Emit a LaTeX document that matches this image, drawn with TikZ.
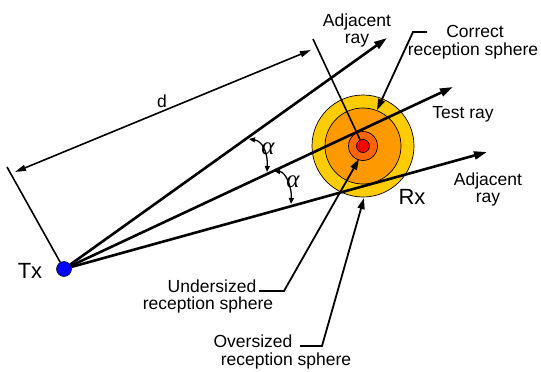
\documentclass[tikz,border=0pt]{standalone}
\usepackage{fontspec}
\setmainfont{Liberation Sans}
\newfontfamily\grkfont{Liberation Serif}
\usetikzlibrary{arrows.meta}
\begin{document}
\begin{tikzpicture}[x=1pt,y=-1pt,
  ray/.style={line width=2.6pt,-{Triangle[length=13pt,width=8pt]}},
  ptr/.style={line width=1.8pt,-{Triangle[length=11pt,width=7pt]}},
  dim/.style={line width=1.6pt,{Triangle[length=11pt,width=6pt]}-{Triangle[length=11pt,width=6pt]}},
  extl/.style={line width=1.6pt},
  curl/.style={line width=1.3pt,{Triangle[length=6pt,width=5pt]}-{Triangle[length=6pt,width=5pt]}},
  lbl/.style={font=\fontsize{17.5}{18}\selectfont, inner sep=0pt, align=center},
  big/.style={font=\fontsize{22}{24}\selectfont, inner sep=0pt},
  greek/.style={inner sep=0pt, font=\fontsize{25}{25}\grkfont\itshape\selectfont},
  sph/.style={circle, draw=black, line width=0.7pt, inner sep=0pt}]
\useasboundingbox (0,0) rectangle (541,372);
% reception spheres
\node[sph, fill={rgb,255:red,255;green,204;blue,0}, minimum size=102pt] (outer) at (363,146) {};
\node[sph, fill={rgb,255:red,255;green,153;blue,0}, minimum size=76pt] (mid) at (363,146) {};
\node[sph, fill={rgb,255:red,255;green,102;blue,0}, minimum size=29pt] (small) at (363,146) {};
\node[sph, fill={rgb,255:red,255;green,0;blue,0}, minimum size=13pt] (rx) at (363,146) {};
% transmitter
\node[circle, draw=black, line width=0.5pt, fill=blue, minimum size=15pt, inner sep=0pt] (tx) at (64,269) {};
% ray end points
\coordinate (a1) at (387,38);
\coordinate (tr) at (453,87);
\coordinate (a2) at (487,152);
% extension lines and dimension
\coordinate (e1) at (7,167);
\coordinate (e2) at (313,39);
\coordinate (d1) at (15,172);
\coordinate (d2) at (311,50);
\draw[extl] (e1) -- (tx);
\draw[extl] (e2) -- (rx);
\draw[dim] (d1) -- (d2);
% rays
\draw[ray] (tx) -- (a1);
\draw[ray] (tx) -- (tr);
\draw[ray] (tx) -- (a2);
% angle curls
\coordinate (c1a) at (249,139);
\coordinate (c1b) at (267,172);
\coordinate (c2a) at (274,171);
\coordinate (c2b) at (291,204);
\draw[curl] (c1a) .. controls (262,141) and (268,152) .. (c1b);
\draw[curl] (c2a) .. controls (286,172) and (292,188) .. (c2b);
\node[greek] (al1) at (268,149) {α};
\node[greek] (al2) at (293,182) {α};
% labels
\node[lbl, anchor=base] (adj1) at (357,27) {Adjacent};
\node[lbl, anchor=base] (adj1b) at (357,43) {ray};
\node[lbl, anchor=base] (corr) at (475,37) {Correct};
\node[lbl, anchor=base] (corrb) at (473,55) {reception sphere};
\node[lbl, anchor=base] (test) at (463,118) {Test ray};
\node[lbl, anchor=base] (adj2) at (488,185) {Adjacent};
\node[lbl, anchor=base] (adj2b) at (488,202) {ray};
\node[big, anchor=base] (rxl) at (412,204) {Rx};
\node[big, anchor=base] (txl) at (30,278) {Tx};
\node[lbl, anchor=base] (dl) at (162,107) {d};
\node[lbl, anchor=base] (und) at (212,292) {Undersized};
\node[lbl, anchor=base] (undb) at (208,309) {reception sphere};
\node[lbl, anchor=base] (ovr) at (253,347) {Oversized};
\node[lbl, anchor=base] (ovrb) at (286,365) {reception sphere};
% pointers
\coordinate (pc1) at (427,32);
\coordinate (pc2) at (413,32);
\coordinate (tc) at (377,110);
\draw[ptr] (pc1) -- (pc2) -- (tc);
\coordinate (pu1) at (259,291);
\coordinate (pu2) at (284,291);
\coordinate (tu) at (359,159);
\draw[ptr] (pu1) -- (pu2) -- (tu);
\coordinate (po1) at (300,346);
\coordinate (po2) at (322,346);
\coordinate (to) at (364,198);
\draw[ptr] (po1) -- (po2) -- (to);
\end{tikzpicture}
\end{document}
